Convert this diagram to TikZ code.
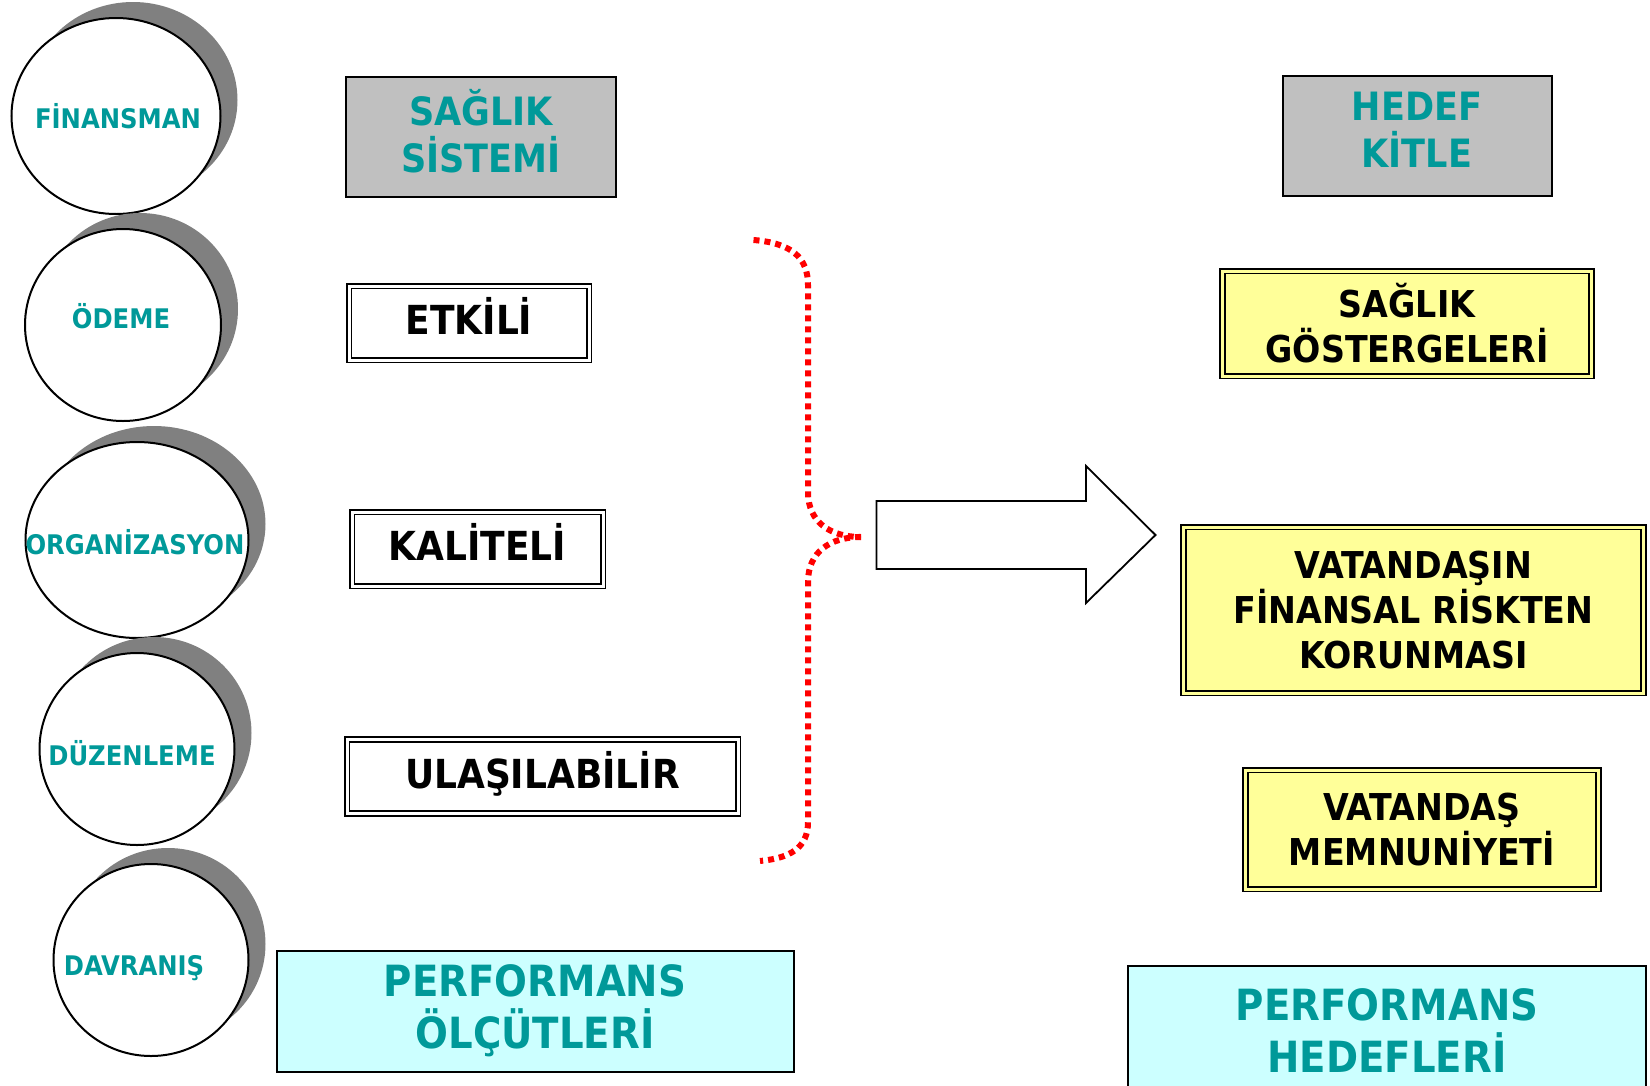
\documentclass[tikz,border=0pt]{standalone}
\usepackage{fontspec}
\setmainfont{DejaVu Sans Condensed}
\usetikzlibrary{shapes.geometric,shadows,positioning}

\definecolor{tealtext}{HTML}{009999}
\definecolor{boxgray}{HTML}{C0C0C0}
\definecolor{boxyellow}{HTML}{FFFF99}
\definecolor{boxcyan}{HTML}{CCFFFF}
\definecolor{shadowgray}{HTML}{808080}

\begin{document}
\begin{tikzpicture}[ x=1pt , y=-1pt ,
  circ/.style = { ellipse , draw , fill=white , line width=2pt , inner sep=0pt ,
    drop shadow={shadow xshift=17pt, shadow yshift=16pt, opacity=1, fill=shadowgray} },
  circtext/.style = { text=tealtext , font=\fontsize{27}{32}\selectfont\bfseries , inner sep=0pt },
  graybox/.style = { draw , fill=boxgray , line width=2pt , align=center , text depth=13pt ,
    text=tealtext , font=\fontsize{39}{47}\selectfont\bfseries },
  whitebox/.style = { draw , line width=1.6pt , double=white , double distance=3pt ,
    text depth=14pt , font=\fontsize{40}{46}\selectfont\bfseries },
  yellowbox/.style = { draw , fill=boxyellow , line width=1.6pt , double=boxyellow ,
    double distance=3pt , align=center , font=\fontsize{37}{45}\selectfont\bfseries },
  cyanbox/.style = { draw , fill=boxcyan , line width=2pt , align=center ,
    text=tealtext , font=\fontsize{43}{52}\selectfont\bfseries },
  brace/.style = { red , line width=6pt , dash pattern=on 6pt off 5pt },
  bigarrow/.style = { draw , fill=white , line width=1.8pt , line join=miter }
]
\useasboundingbox (0,0) rectangle (1650,1085);

% circles on the left
\node [ circ , minimum width=209 , minimum height=196 ] (finansman) at (116,116) {};
\node [ circ , minimum width=196 , minimum height=192 ] (odeme) at (123,325) {};
\node [ circ , minimum width=223 , minimum height=196 ] (organizasyon) at (137,540) {};
\node [ circ , minimum width=195 , minimum height=192 ] (duzenleme) at (137,749) {};
\node [ circ , minimum width=195 , minimum height=192 ] (davranis) at (151,960) {};
\node [ circtext ] at ([shift={(2,0)}]finansman.center) {FİNANSMAN};
\node [ circtext ] at ([shift={(-2,-9)}]odeme.center) {ÖDEME};
\node [ circtext ] at ([shift={(-2,2)}]organizasyon.center) {ORGANİZASYON};
\node [ circtext ] at ([shift={(-5,4)}]duzenleme.center) {DÜZENLEME};
\node [ circtext ] at ([shift={(-17,8)}]davranis.center) {DAVRANIŞ};

% column headers
\node [ graybox , minimum width=270 , minimum height=120 ] (sistem) at (481,137) {SAĞLIK\\SİSTEMİ};
\node [ graybox , minimum width=269 , minimum height=120 ] (kitle) at (1417,136) {HEDEF\\KİTLE};

% criteria
\node [ whitebox , minimum width=240 , minimum height=74 ] (etkili) at (469,323) {ETKİLİ};
\node [ whitebox , minimum width=251 , minimum height=74 ] (kaliteli) at (477.5,549) {KALİTELİ};
\node [ whitebox , minimum width=391 , minimum height=74 ] (ulasilabilir) at (542.5,776.5) {ULAŞILABİLİR};

% targets
\node [ yellowbox , minimum width=369 , minimum height=105 ] (gosterge) at (1407,323.5) {SAĞLIK\\GÖSTERGELERİ};
\node [ yellowbox , minimum width=460 , minimum height=166 ] (risk) at (1413.5,610) {VATANDAŞIN\\FİNANSAL RİSKTEN\\KORUNMASI};
\node [ yellowbox , minimum width=353 , minimum height=119 ] (memnuniyet) at (1422,829.5) {VATANDAŞ\\MEMNUNİYETİ};

% footers
\node [ cyanbox , minimum width=517 , minimum height=121 ] (olcut) at (535,1011) {PERFORMANS\\ÖLÇÜTLERİ};
\node [ cyanbox , minimum width=518 , minimum height=130 ] (hedef) at (1387,1031) {PERFORMANS\\HEDEFLERİ};

% brace and arrow
\coordinate (btop) at (753.5,240);
\coordinate (btip) at (861,537);
\coordinate (bbot) at (760,861);
\draw [ brace ] (btop) .. controls (792,243) and (808,258) .. (808,285) -- (808,492)
  .. controls (808,522) and (830,537) .. (btip);
\draw [ brace ] (btip) .. controls (830,537) and (808,552) .. (808,582) -- (808,822)
  .. controls (808,848) and (790,858) .. (bbot);
\draw [ bigarrow ] (876.5,501) -- (1086,501) -- (1086,466) -- (1155.5,535)
  -- (1086,603) -- (1086,569) -- (876.5,569) -- cycle;
\end{tikzpicture}
\end{document}
